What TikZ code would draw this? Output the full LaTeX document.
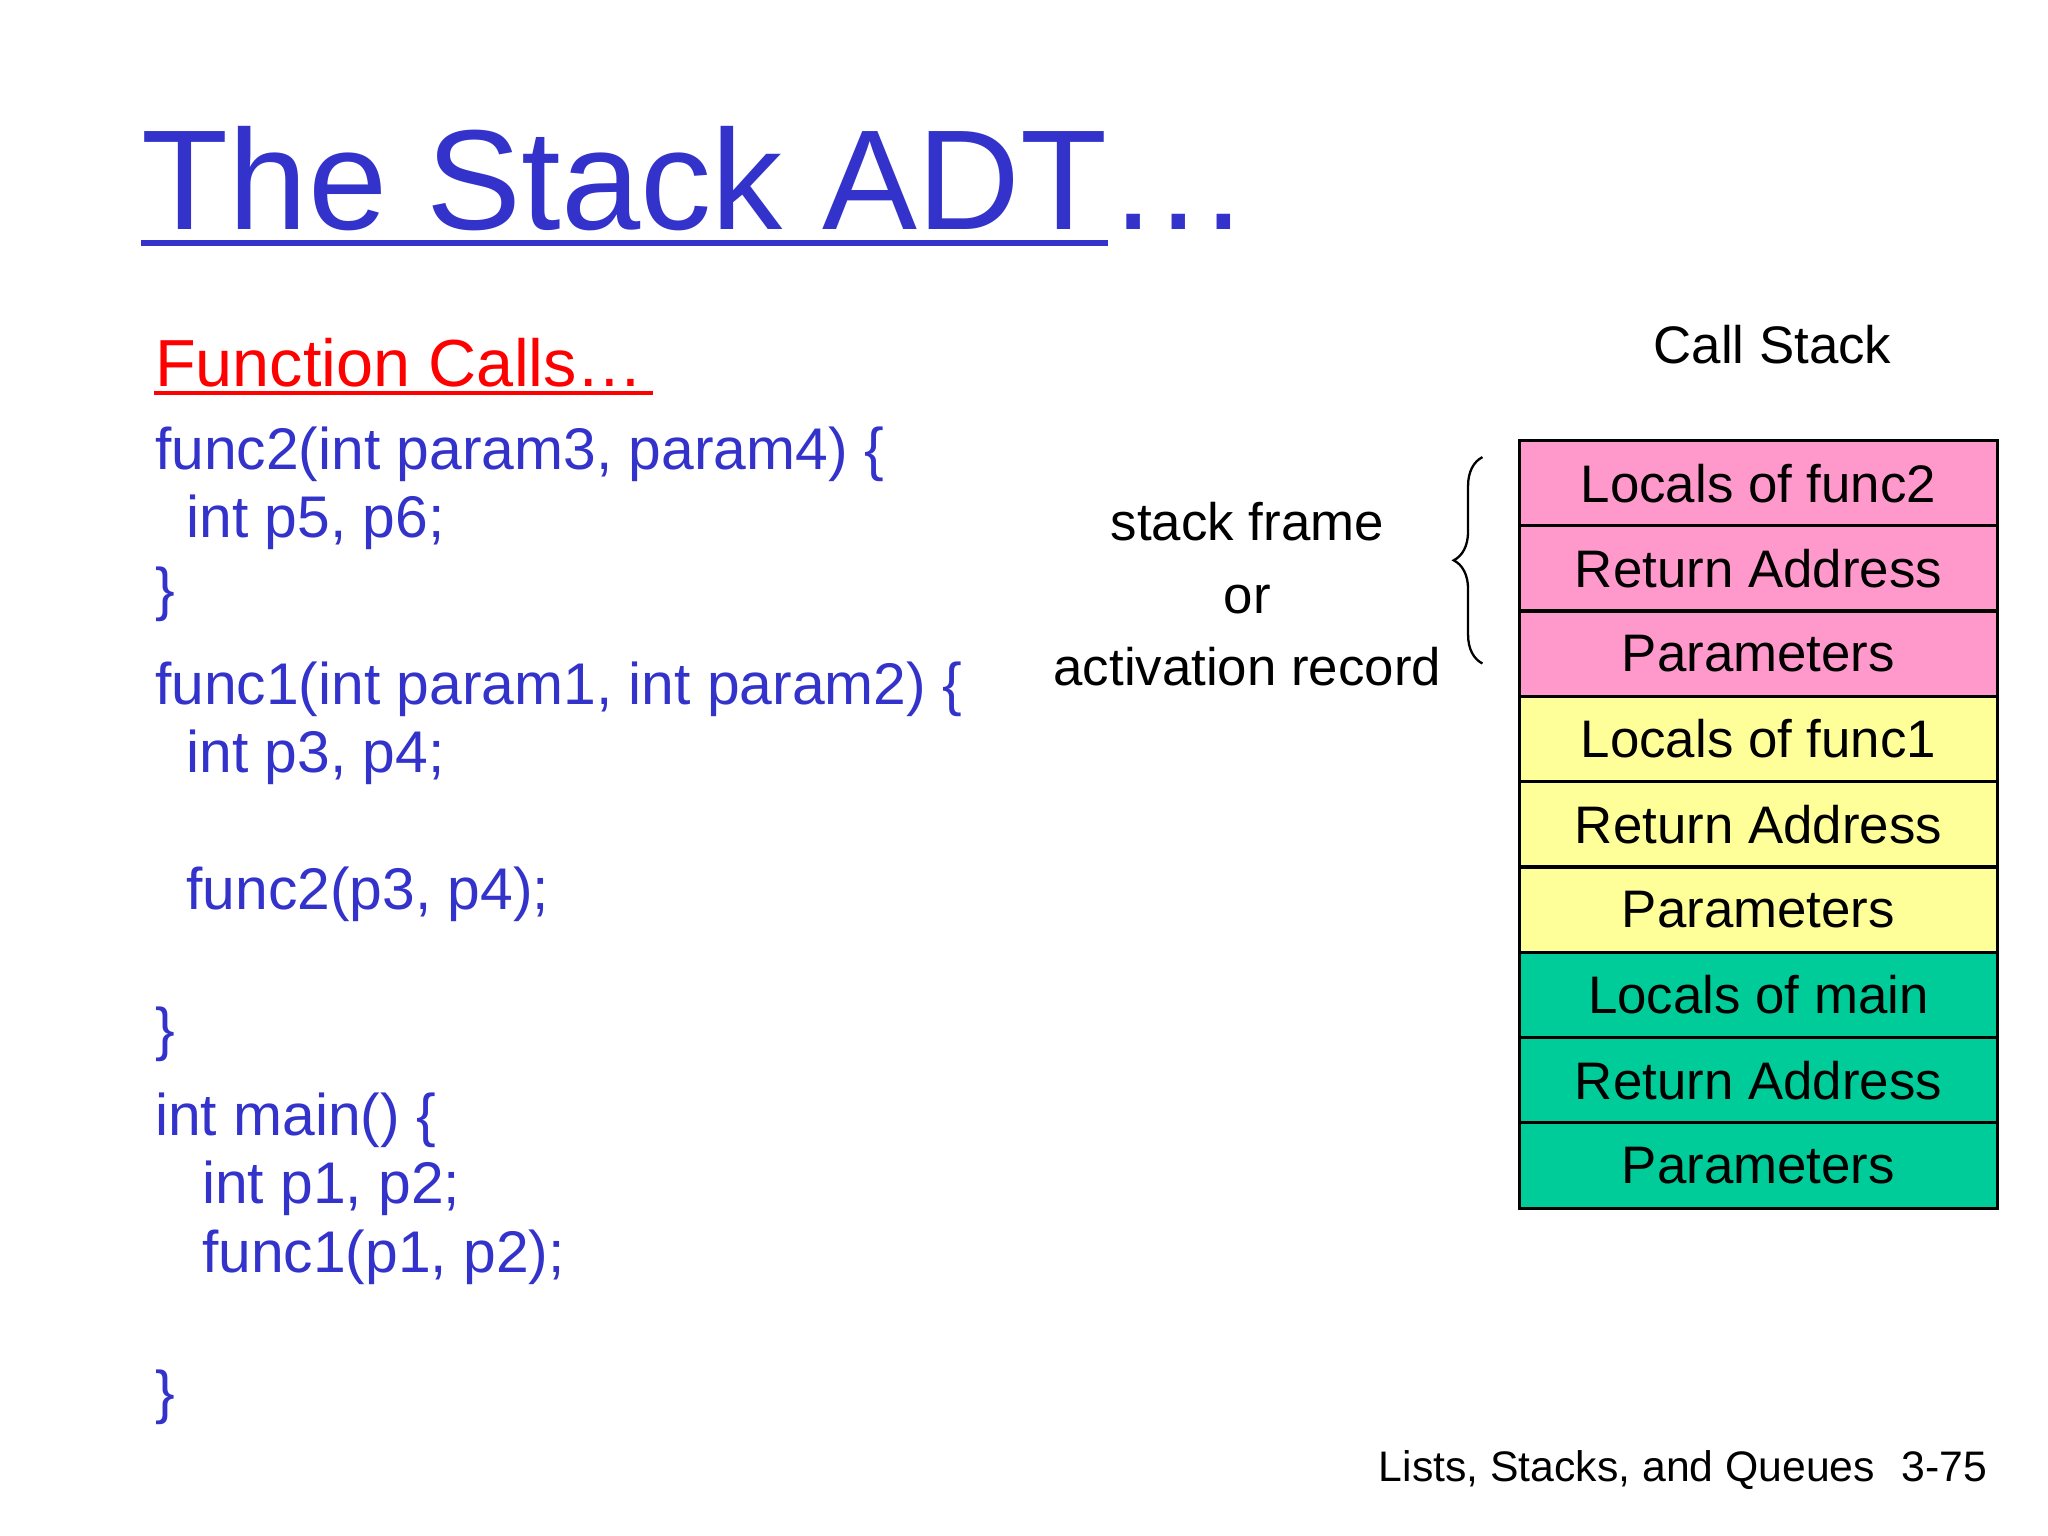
\documentclass[tikz,border=0pt]{standalone}
\usepackage{fontspec}
\setmainfont{Liberation Sans}
\usetikzlibrary{decorations.pathreplacing}
\definecolor{tblue}{RGB}{51,51,204}
\definecolor{pinkc}{RGB}{255,153,204}
\definecolor{yelc}{RGB}{255,255,153}
\definecolor{grnc}{RGB}{0,204,153}
\begin{document}
\begin{tikzpicture}[x=0.01cm,y=-0.01cm,
  code/.style={anchor=west,text=tblue,font=\fontsize{12.8}{14}\selectfont,inner sep=0},
  cell/.style={draw=black,line width=0.7pt,minimum width=3.66cm,minimum height=0.653cm,inner sep=0,font=\fontsize{11.5}{13}\selectfont,anchor=north west},
  lab/.style={font=\fontsize{11.5}{13}\selectfont,inner sep=0}]
\fill[white] (0,0) rectangle (1568,1176);
\useasboundingbox (0,0) rectangle (1568,1176);
\node[anchor=base west,inner sep=0,text=tblue,font=\fontsize{31}{34}\selectfont] (title) at (108,176) {The Stack ADT…};
\draw[tblue,line width=1.4pt] (108,186) -- (848,186);
\node[anchor=base west,inner sep=0,text=red,font=\fontsize{14.5}{16}\selectfont] (fc) at (118,296) {Function Calls…};
\draw[red,line width=0.9pt] (118,301) -- (500,301);
\node[code] (l1) at (118,348) {func2(int param3, param4) \{};
\node[code] (l2) at (142,400) {int p5, p6;};
\node[code] (l3) at (118,455) {\}};
\node[code] (l4) at (118,528) {func1(int param1, int param2) \{};
\node[code] (l5) at (142,580) {int p3, p4;};
\node[code] (l6) at (142,685) {func2(p3, p4);};
\node[code] (l7) at (118,792) {\}};
\node[code] (l8) at (118,858) {int main() \{};
\node[code] (l9) at (154,910) {int p1, p2;};
\node[code] (l10) at (154,963) {func1(p1, p2);};
\node[code] (l11) at (118,1070) {\}};
\node[lab] (cs) at (1357,264) {Call Stack};
\node[cell,fill=pinkc] (s1) at (1162,336) {Locals of func2};
\node[cell,fill=pinkc] (s2) at (1162,401.3) {Return Address};
\node[cell,fill=pinkc] (s3) at (1162,466.6) {Parameters};
\node[cell,fill=yelc] (s4) at (1162,531.9) {Locals of func1};
\node[cell,fill=yelc] (s5) at (1162,597.2) {Return Address};
\node[cell,fill=yelc] (s6) at (1162,662.5) {Parameters};
\node[cell,fill=grnc] (s7) at (1162,727.8) {Locals of main};
\node[cell,fill=grnc] (s8) at (1162,793.1) {Return Address};
\node[cell,fill=grnc] (s9) at (1162,858.4) {Parameters};
\node[lab,align=center] (sf) at (955,455) {stack frame\\[0.1cm]or\\[0.1cm]activation record};
\coordinate (bt) at (1135,350);
\coordinate (bb) at (1135,508);
\draw[decorate,decoration={brace,amplitude=0.22cm},line width=0.5pt] (bb) -- (bt);
\node[anchor=base west,inner sep=0,font=\fontsize{9.3}{11}\selectfont] (ft1) at (1055,1134) {Lists, Stacks, and Queues};
\node[anchor=base west,inner sep=0,font=\fontsize{9.3}{11}\selectfont] (ft2) at (1455,1134) {3-75};
\end{tikzpicture}
\end{document}
